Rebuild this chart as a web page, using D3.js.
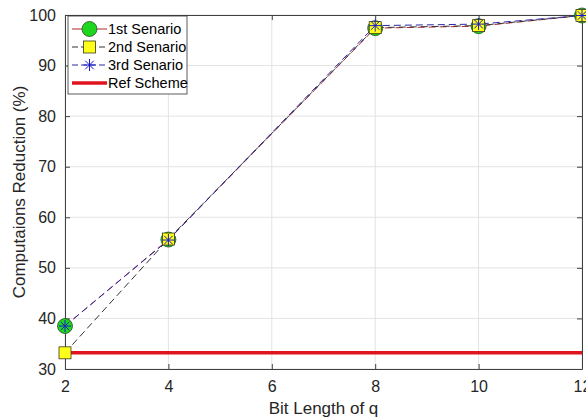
<!DOCTYPE html>
<html>
<head>
<meta charset="utf-8">
<script src="https://cdn.jsdelivr.net/npm/d3@7"></script>
<style>
  body { margin: 0; background: #fff; }
  text { font-family: "Liberation Sans", Arial, sans-serif; }
</style>
</head>
<body>
<div id="chart"></div>
<script>
// data
const bitLength = [2, 4, 8, 10, 12];
const scenario1 = [38.5, 55.6, 97.4, 97.8, 99.9];
const scenario2 = [33.2, 55.7, 97.5, 97.9, 99.9];
const scenario3 = [38.5, 55.5, 97.9, 98.2, 99.9];
const refScheme = [33.2, 33.2, 33.2, 33.2, 33.2];
const xTicks = [2, 4, 6, 8, 10, 12];
const yTicks = [30, 40, 50, 60, 70, 80, 90, 100];

const width = 586, height = 419;
const margin = { top: 15, right: 4, bottom: 50, left: 65 };

const svg = d3.select("#chart").append("svg")
  .attr("width", width).attr("height", height);

const x = d3.scaleLinear().domain([2, 12]).range([margin.left, width - margin.right]);
const y = d3.scaleLinear().domain([30, 100]).range([height - margin.bottom, margin.top]);

// grid
svg.append("g").selectAll("line.gx").data(xTicks).enter().append("line")
  .attr("x1", d => x(d)).attr("x2", d => x(d))
  .attr("y1", y(30)).attr("y2", y(100))
  .attr("stroke", "#e3e3e3").attr("stroke-width", 1);
svg.append("g").selectAll("line.gy").data(yTicks).enter().append("line")
  .attr("x1", x(2)).attr("x2", x(12))
  .attr("y1", d => y(d)).attr("y2", d => y(d))
  .attr("stroke", "#e3e3e3").attr("stroke-width", 1);

// axes, ticks inside
const axisColor = "#404040";
function styleAxis(g, showLabels) {
  g.select(".domain").attr("stroke", axisColor);
  g.selectAll(".tick line").attr("stroke", axisColor);
  g.selectAll(".tick text")
    .attr("fill", "#262626")
    .style("font-size", "16px")
    .style("font-family", "Liberation Sans, Arial, sans-serif")
    .style("display", showLabels ? null : "none");
}

svg.append("g")
  .attr("transform", `translate(0,${y(30)})`)
  .call(d3.axisBottom(x).tickValues(xTicks).tickSizeInner(-5).tickSizeOuter(0).tickPadding(12))
  .call(g => styleAxis(g, true));
svg.append("g")
  .attr("transform", `translate(0,${y(100)})`)
  .call(d3.axisTop(x).tickValues(xTicks).tickSizeInner(-5).tickSizeOuter(0))
  .call(g => styleAxis(g, false));
svg.append("g")
  .attr("transform", `translate(${x(2)},0)`)
  .call(d3.axisLeft(y).tickValues(yTicks).tickSizeInner(-5).tickSizeOuter(0).tickPadding(9))
  .call(g => styleAxis(g, true));
svg.append("g")
  .attr("transform", `translate(${x(12)},0)`)
  .call(d3.axisRight(y).tickValues(yTicks).tickSizeInner(-5).tickSizeOuter(0))
  .call(g => styleAxis(g, false));

// axis labels
svg.append("text")
  .attr("x", (x(2) + x(12)) / 2).attr("y", 414)
  .attr("text-anchor", "middle")
  .style("font-size", "17px").attr("fill", "#262626")
  .text("Bit Length of q");
svg.append("text")
  .attr("transform", `translate(25,${(y(30) + y(100)) / 2}) rotate(-90)`)
  .attr("text-anchor", "middle")
  .style("font-size", "17px").attr("fill", "#262626")
  .text("Computaions Reduction (%)");

// series
const line = d3.line().x(d => x(d[0])).y(d => y(d[1]));
const zip = vals => bitLength.map((b, i) => [b, vals[i]]);

svg.append("path").datum(zip(refScheme))
  .attr("d", line).attr("fill", "none")
  .attr("stroke", "#e0141e").attr("stroke-width", 3.5);

const series = [
  { name: "1st Senario", values: scenario1, color: "#b0262e", dash: "7,4", marker: "circle" },
  { name: "2nd Senario", values: scenario2, color: "#333333", dash: "7,4", marker: "square" },
  { name: "3rd Senario", values: scenario3, color: "#2b2ba8", dash: "7,4", marker: "star" }
];

function drawMarker(g, type, cx, cy) {
  if (type === "circle") {
    g.append("circle").attr("cx", cx).attr("cy", cy).attr("r", 7.5)
      .attr("fill", "#1fd61f").attr("stroke", "#2a4a2a").attr("stroke-width", 0.8);
  } else if (type === "square") {
    g.append("rect").attr("x", cx - 6).attr("y", cy - 6).attr("width", 12).attr("height", 12)
      .attr("fill", "#ffff1a").attr("stroke", "#3a3a1a").attr("stroke-width", 0.8);
  } else {
    const r = 6;
    const s = r * Math.SQRT1_2;
    const p = `M${cx - r},${cy}L${cx + r},${cy}M${cx},${cy - r}L${cx},${cy + r}` +
      `M${cx - s},${cy - s}L${cx + s},${cy + s}M${cx - s},${cy + s}L${cx + s},${cy - s}`;
    g.append("path").attr("d", p).attr("stroke", "#1a1acc").attr("stroke-width", 1).attr("fill", "none");
  }
}

series.forEach(s => {
  svg.append("path").datum(zip(s.values))
    .attr("d", line).attr("fill", "none")
    .attr("stroke", s.color).attr("stroke-width", 1)
    .attr("stroke-dasharray", s.dash);
});
series.forEach(s => {
  const g = svg.append("g");
  zip(s.values).forEach(d => drawMarker(g, s.marker, x(d[0]), y(d[1])));
});

// legend
const lg = svg.append("g").attr("transform", "translate(68,16)");
lg.append("rect").attr("width", 119).attr("height", 78)
  .attr("fill", "#fff").attr("stroke", "#333").attr("stroke-width", 0.8);
const legendItems = series.concat([{ name: "Ref Scheme", color: "#e0141e", marker: null }]);
legendItems.forEach((s, i) => {
  const cy = 13 + i * 18;
  if (s.marker) {
    lg.append("line").attr("x1", 4).attr("x2", 39).attr("y1", cy).attr("y2", cy)
      .attr("stroke", s.color).attr("stroke-width", 1).attr("stroke-dasharray", i === 0 ? null : "6,3");
    drawMarker(lg, s.marker, 21.5, cy);
  } else {
    lg.append("line").attr("x1", 4).attr("x2", 39).attr("y1", cy).attr("y2", cy)
      .attr("stroke", s.color).attr("stroke-width", 3.5);
  }
  lg.append("text").attr("x", 40).attr("y", cy).attr("dy", "0.35em")
    .style("font-size", "14.5px").attr("fill", "#000").text(s.name);
});
</script>
</body>
</html>
